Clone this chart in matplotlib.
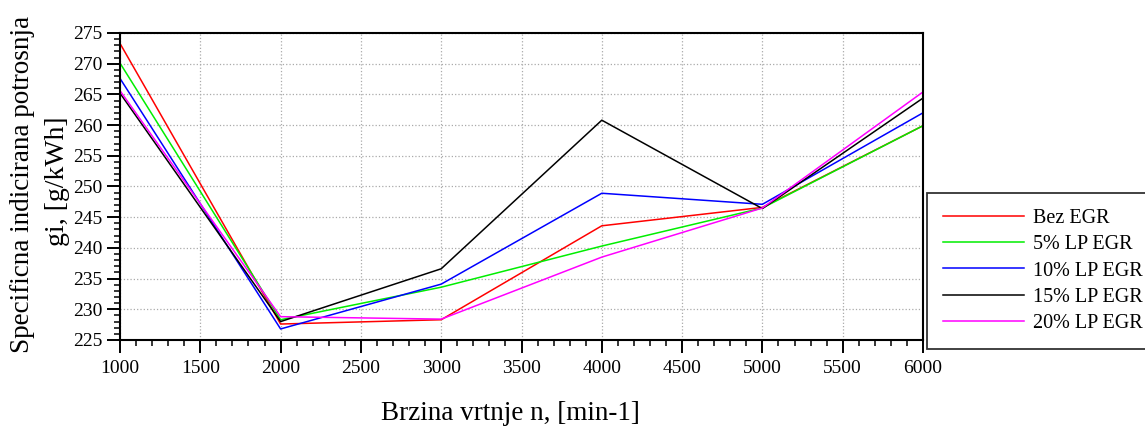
import matplotlib
matplotlib.use("Agg")
from matplotlib import pyplot as plt
from matplotlib.ticker import MultipleLocator

plt.rcParams['font.family'] = ['Liberation Serif', 'DejaVu Serif']

rpm = [1000, 2000, 3000, 4000, 5000, 6000]
bez_egr = [273.3, 227.6, 228.3, 243.6, 246.6, 259.9]
lp5 = [270.1, 228.3, 233.6, 240.3, 246.5, 259.9]
lp10 = [267.6, 226.8, 234.1, 248.9, 247.1, 262.0]
lp15 = [265.2, 228.0, 236.6, 260.8, 246.4, 264.4]
lp20 = [265.6, 228.8, 228.4, 238.5, 246.5, 265.4]

series = [
    ("Bez EGR", bez_egr, "#ff0000"),
    ("5% LP EGR", lp5, "#00ee00"),
    ("10% LP EGR", lp10, "#0000ff"),
    ("15% LP EGR", lp15, "#000000"),
    ("20% LP EGR", lp20, "#ff00ff"),
]

fig = plt.figure(figsize=(11.45, 4.3), dpi=100)
ax = fig.add_axes([120 / 1145, 1 - 340 / 430, 803 / 1145, 307 / 430])

for name, vals, col in series:
    ax.plot(rpm, vals, color=col, lw=1.1, label=name)

ax.set_xlim(1000, 6000)
ax.set_ylim(225, 275)
ax.xaxis.set_major_locator(MultipleLocator(500))
ax.xaxis.set_minor_locator(MultipleLocator(100))
ax.yaxis.set_major_locator(MultipleLocator(5))
ax.yaxis.set_minor_locator(MultipleLocator(1))
ax.tick_params(which='major', direction='out', length=9.5, width=1.4, labelsize=14)
ax.tick_params(which='minor', direction='out', length=4.5, width=1.1)
ax.tick_params(axis='x', which='major', pad=5)
ax.tick_params(axis='y', which='major', pad=3)
ax.grid(True, which='major', linestyle=':', color='#aaaaaa', lw=0.9)
for s in ax.spines.values():
    s.set_linewidth(1.5)

fig.text(23 / 1145, 1 - 184 / 430, "Specificna indicirana potrosnja", rotation=90,
         ha='center', va='center', fontsize=19.5)
fig.text(57 / 1145, 1 - 181 / 430, "gi, [g/kWh]", rotation=90,
         ha='center', va='center', fontsize=20)
fig.text(510 / 1145, 1 - 413 / 430, "Brzina vrtnje n, [min-1]",
         ha='center', va='center', fontsize=19.5)

leg = fig.legend(loc='upper left', bbox_to_anchor=(927 / 1145, 1 - 193 / 430),
                 fontsize=14.5, frameon=True, fancybox=False, borderpad=0.8,
                 handlelength=4.0, handletextpad=0.45, labelspacing=0.35,
                 borderaxespad=0)
leg.get_frame().set_edgecolor('black')
leg.get_frame().set_linewidth(1.3)

plt.savefig("out.png", dpi=100)
